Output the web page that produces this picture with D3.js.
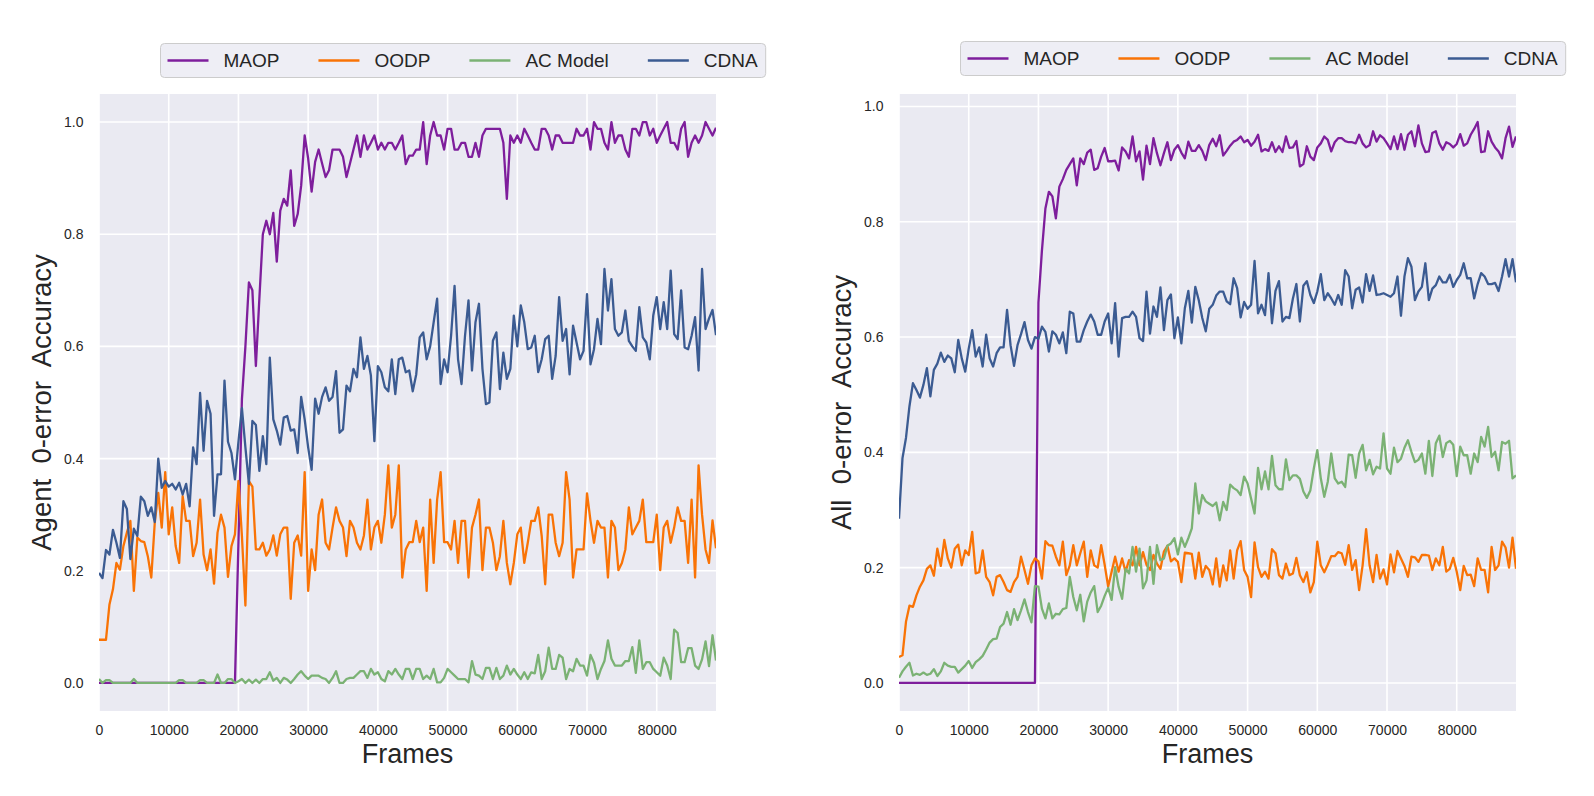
<!DOCTYPE html>
<html>
<head>
<meta charset="utf-8">
<script src="https://cdn.jsdelivr.net/npm/d3@7"></script>
<style>
  body { margin: 0; background: #fff; }
  svg { display: block; }
</style>
</head>
<body>
<svg id="chart" width="1594" height="796"></svg>
<script>
const seriesNames = ["MAOP", "OODP", "AC Model", "CDNA"];
const seriesColors = ["#7e1e9c", "#f97306", "#7bb274", "#3b5b92"];
const xTicks = [0, 10000, 20000, 30000, 40000, 50000, 60000, 70000, 80000];
const yTicks = [0, 0.2, 0.4, 0.6, 0.8, 1.0];
const frameStep = 500;

// left panel: Agent 0-error accuracy
const agentMaop = [
  0, 0, 0, 0, 0, 0, 0, 0, 0, 0,
  0, 0, 0, 0, 0, 0, 0, 0, 0, 0,
  0, 0, 0, 0, 0, 0, 0, 0, 0, 0,
  0, 0, 0, 0, 0, 0, 0, 0, 0, 0,
  .25, .506, .60, .714, .70, .565, .685, .80, .824, .80,
  .838, .751, .842, .863, .851, .914, .815, .836, .887, .976,
  .935, .876, .929, .951, .926, .902, .914, .951, .951, .951,
  .938, .902, .926, .951, .976, .938, .976, .951, .963, .976,
  .951, .963, .951, .963, .963, .951, .963, .976, .925, .94,
  .94, .951, .951, 1, .925, .976, 1, .976, .976, .951,
  .988, .988, .951, .951, .963, .963, .938, .938, .963, .938,
  .976, .988, .988, .988, .988, .988, .963, .863, .976, .963,
  .976, .963, .988, .976, .963, .951, .951, .988, .988, .976,
  .951, .976, .976, .963, .963, .963, .963, .988, .976, .976,
  .988, .951, 1, .988, .988, .963, .951, 1, .963, .976,
  .976, .951, .938, .988, .988, .976, 1, 1, .976, .988,
  .963, .976, .988, 1, .963, .963, .951, .988, 1, .938,
  .963, .976, .963, .976, 1, .988, .976, .99
];
const agentOodp = [
  .077, .077, .077, .14, .167, .214, .202, .244, .268, .289,
  .164, .259, .253, .251, .226, .188, .286, .339, .277, .376,
  .265, .313, .244, .214, .333, .289, .289, .226, .25, .327,
  .229, .201, .238, .177, .268, .30, .277, .189, .244, .265,
  .36, .262, .138, .36, .35, .238, .238, .25, .227, .238,
  .263, .227, .265, .277, .277, .15, .25, .263, .227, .376,
  .164, .238, .201, .30, .327, .25, .238, .277, .313, .289,
  .277, .226, .289, .277, .25, .238, .263, .327, .238, .277,
  .289, .25, .30, .388, .277, .30, .388, .188, .238, .251,
  .251, .289, .251, .277, .164, .327, .214, .327, .376, .251,
  .251, .238, .289, .214, .289, .289, .188, .277, .30, .327,
  .201, .277, .277, .25, .201, .226, .289, .214, .176, .214,
  .265, .277, .214, .25, .289, .289, .313, .262, .176, .30,
  .30, .25, .226, .25, .376, .327, .188, .238, .238, .238,
  .338, .289, .25, .289, .277, .277, .188, .289, .277, .201,
  .214, .238, .313, .265, .277, .289, .327, .251, .251, .251,
  .30, .201, .277, .289, .25, .277, .313, .289, .289, .214,
  .327, .188, .388, .30, .238, .214, .29, .24
];
const agentAc = [
  .007, 0, .005, .005, 0, 0, 0, 0, 0, 0,
  .007, 0, 0, 0, 0, 0, 0, 0, 0, 0,
  0, 0, 0, .005, .005, 0, 0, 0, 0, .005,
  .005, 0, 0, 0, .015, 0, 0, .007, .007, 0,
  .003, .007, 0, .006, 0, .006, 0, .007, .007, .019,
  .004, .009, 0, .009, .006, 0, .007, .015, .021, .013,
  .007, .013, .013, .013, .009, .007, 0, .009, .021, 0,
  0, .007, .009, .009, .015, .021, .021, .009, .025, .015,
  .019, .007, .003, .021, .015, .025, .015, .007, .025, .025,
  .007, .025, .025, .007, .013, .007, .025, .001, .001, .009,
  .025, .019, .013, .007, .007, .007, .001, .039, .015, .013,
  .007, .027, .027, .007, .027, .007, .013, .031, .015, .025,
  .015, .007, .019, .007, .019, .017, .05, .007, .021, .063,
  .025, .025, .05, .045, .007, .025, .021, .043, .031, .031,
  .013, .05, .036, .007, .025, .039, .076, .043, .031, .031,
  .031, .039, .039, .064, .018, .076, .025, .037, .037, .025,
  .019, .013, .045, .031, .007, .095, .089, .037, .037, .062,
  .062, .031, .025, .042, .074, .03, .085, .04
];
const agentCdna = [
  .196, .187, .237, .229, .273, .25, .223, .324, .31, .221,
  .275, .262, .332, .324, .298, .313, .287, .40, .348, .36,
  .35, .355, .345, .357, .336, .355, .315, .42, .39, .517,
  .414, .503, .48, .298, .372, .372, .539, .43, .41, .363,
  .43, .49, .42, .355, .467, .46, .378, .44, .39, .58,
  .47, .45, .425, .473, .476, .45, .452, .41, .51, .47,
  .42, .38, .507, .48, .51, .527, .503, .51, .556, .446,
  .452, .53, .52, .56, .545, .616, .56, .583, .548, .431,
  .565, .554, .527, .52, .577, .515, .577, .58, .554, .557,
  .52, .55, .616, .625, .577, .60, .643, .685, .533, .577,
  .554, .619, .708, .577, .533, .619, .682, .557, .643, .676,
  .56, .497, .50, .61, .625, .524, .589, .542, .56, .655,
  .60, .673, .643, .595, .598, .619, .554, .577, .613, .619,
  .542, .583, .688, .61, .631, .55, .637, .607, .577, .592,
  .693, .568, .595, .649, .604, .738, .664, .72, .631, .619,
  .625, .664, .61, .60, .592, .67, .616, .607, .577, .655,
  .688, .631, .679, .631, .735, .622, .613, .70, .598, .595,
  .619, .652, .557, .738, .631, .65, .665, .62
];

// right panel: All 0-error accuracy
const allMaop = [
  0, 0, 0, 0, 0, 0, 0, 0, 0, 0,
  0, 0, 0, 0, 0, 0, 0, 0, 0, 0,
  0, 0, 0, 0, 0, 0, 0, 0, 0, 0,
  0, 0, 0, 0, 0, 0, 0, 0, 0, 0,
  .66, .75, .823, .852, .844, .806, .861, .874, .89, .90,
  .91, .863, .91, .90, .92, .925, .89, .893, .913, .928,
  .905, .905, .906, .889, .929, .922, .91, .948, .905, .922,
  .873, .932, .90, .945, .919, .898, .919, .938, .907, .925,
  .933, .92, .91, .939, .923, .923, .933, .923, .907, .933,
  .944, .931, .95, .915, .923, .932, .939, .942, .948, .938,
  .942, .932, .939, .951, .922, .926, .923, .938, .921, .931,
  .921, .948, .928, .929, .94, .896, .90, .931, .913, .907,
  .929, .936, .948, .942, .922, .938, .945, .945, .94, .938,
  .938, .936, .951, .936, .929, .933, .957, .939, .95, .945,
  .936, .926, .948, .926, .952, .925, .951, .957, .931, .967,
  .936, .921, .922, .954, .957, .936, .925, .938, .935, .929,
  .935, .952, .932, .936, .951, .961, .973, .921, .922, .957,
  .939, .929, .922, .91, .945, .965, .93, .948
];
const allOodp = [
  .045, .048, .106, .134, .132, .152, .167, .178, .198, .204,
  .186, .233, .203, .248, .216, .20, .233, .24, .204, .23,
  .222, .262, .19, .192, .23, .184, .175, .152, .184, .187,
  .175, .161, .158, .175, .184, .219, .196, .172, .204, .216,
  .211, .181, .246, .239, .238, .219, .204, .245, .187, .204,
  .239, .204, .225, .245, .184, .23, .204, .20, .239, .205,
  .167, .193, .219, .193, .216, .193, .213, .204, .236, .204,
  .227, .205, .196, .222, .207, .198, .228, .238, .211, .216,
  .21, .175, .226, .225, .224, .181, .226, .184, .203, .196,
  .171, .216, .167, .204, .178, .23, .181, .23, .246, .196,
  .184, .149, .244, .201, .184, .193, .181, .232, .225, .187,
  .181, .207, .187, .19, .217, .187, .175, .192, .157, .175,
  .245, .204, .192, .205, .22, .22, .227, .225, .205, .239,
  .196, .213, .161, .204, .267, .204, .175, .222, .181, .197,
  .171, .223, .192, .229, .216, .203, .184, .219, .218, .21,
  .222, .222, .221, .196, .216, .204, .236, .193, .198, .217,
  .193, .161, .203, .187, .188, .168, .216, .196, .196, .157,
  .236, .196, .204, .245, .235, .20, .252, .198
];
const allAc = [
  .009, .02, .028, .035, .013, .016, .014, .018, .014, .016,
  .024, .012, .02, .035, .03, .028, .028, .018, .024, .03,
  .038, .026, .036, .041, .047, .058, .07, .076, .077, .097,
  .103, .123, .101, .128, .109, .126, .145, .123, .105, .168,
  .167, .129, .112, .138, .112, .12, .119, .128, .13, .184,
  .149, .126, .153, .107, .141, .157, .168, .123, .134, .151,
  .165, .144, .201, .167, .146, .198, .19, .236, .193, .233,
  .164, .178, .236, .172, .239, .213, .216, .238, .242, .251,
  .223, .252, .236, .251, .268, .346, .294, .326, .315, .311,
  .307, .313, .282, .314, .30, .344, .338, .334, .326, .358,
  .346, .32, .294, .373, .336, .367, .336, .394, .343, .336,
  .336, .388, .352, .36, .36, .354, .332, .321, .334, .372,
  .404, .355, .323, .349, .398, .355, .346, .349, .34, .396,
  .395, .356, .398, .413, .369, .387, .362, .375, .372, .433,
  .372, .363, .408, .383, .389, .408, .421, .401, .383, .387,
  .398, .363, .42, .359, .416, .429, .392, .416, .42, .413,
  .359, .41, .395, .395, .363, .398, .383, .427, .41, .444,
  .392, .401, .369, .418, .415, .42, .355, .36
];
const allCdna = [
  .285, .39, .425, .48, .52, .508, .495, .517, .546, .497,
  .543, .554, .573, .557, .568, .563, .539, .595, .563, .54,
  .58, .612, .566, .582, .549, .604, .563, .549, .572, .582,
  .582, .647, .586, .55, .586, .605, .626, .595, .58, .60,
  .597, .618, .609, .575, .61, .604, .589, .608, .572, .644,
  .641, .592, .592, .612, .627, .639, .627, .604, .604, .627,
  .641, .589, .659, .566, .633, .635, .635, .644, .635, .598,
  .593, .679, .606, .653, .635, .686, .612, .664, .674, .598,
  .634, .589, .65, .68, .625, .687, .664, .633, .61, .649,
  .656, .672, .679, .679, .662, .657, .702, .685, .634, .661,
  .649, .656, .732, .641, .656, .638, .711, .624, .68, .697,
  .627, .635, .633, .667, .692, .627, .689, .697, .673, .659,
  .679, .709, .664, .676, .667, .656, .673, .656, .716, .705,
  .65, .682, .686, .66, .709, .68, .707, .673, .674, .676,
  .673, .67, .676, .705, .637, .705, .737, .722, .664, .679,
  .687, .728, .664, .684, .69, .705, .695, .695, .708, .687,
  .699, .708, .728, .702, .702, .667, .692, .711, .705, .692,
  .692, .694, .68, .705, .735, .705, .735, .695
];

const frames = agentMaop.map((d, i) => i * frameStep);
const fontFamily = "'Liberation Sans', Arial, sans-serif";
const textColor = "#262626";

const svg = d3.select("#chart").attr("font-family", fontFamily);
const defs = svg.append("defs");

function drawPanel(p) {
  const g = svg.append("g").attr("transform", `translate(${p.left}, ${p.top})`);

  // scales, y gets matplotlib style 5% margins
  const x = d3.scaleLinear()
    .domain([0, frames[frames.length - 1]])
    .range([0, p.width]);
  const all = [].concat(...p.series);
  const lo = d3.min(all), hi = d3.max(all), pad = (hi - lo) * 0.05;
  const y = d3.scaleLinear()
    .domain([lo - pad, hi + pad])
    .range([p.height, 0]);

  g.append("rect")
    .attr("width", p.width)
    .attr("height", p.height)
    .attr("fill", "#eaeaf2");

  // grid lines
  g.selectAll(".vgrid").data(xTicks).enter().append("line")
    .attr("x1", d => x(d)).attr("x2", d => x(d))
    .attr("y1", 0).attr("y2", p.height)
    .attr("stroke", "#fff").attr("stroke-width", 1.6);
  g.selectAll(".hgrid").data(yTicks).enter().append("line")
    .attr("x1", 0).attr("x2", p.width)
    .attr("y1", d => y(d)).attr("y2", d => y(d))
    .attr("stroke", "#fff").attr("stroke-width", 1.6);

  // axes without domain line or tick marks
  const xAxis = d3.axisBottom(x).tickValues(xTicks).tickSize(0).tickPadding(14).tickFormat(d3.format("d"));
  const yAxis = d3.axisLeft(y).tickValues(yTicks).tickSize(0).tickPadding(15.5).tickFormat(d3.format(".1f"));
  const xa = g.append("g").attr("transform", `translate(0, ${p.height})`).call(xAxis);
  const ya = g.append("g").call(yAxis);
  [xa, ya].forEach(a => {
    a.select(".domain").remove();
    a.attr("font-family", fontFamily).attr("font-size", 14).attr("color", textColor);
  });

  // the lines
  const clipId = p.id + "-clip";
  defs.append("clipPath").attr("id", clipId)
    .append("rect").attr("width", p.width).attr("height", p.height);
  const line = d3.line()
    .x((d, i) => x(frames[i]))
    .y(d => y(d));
  const lines = g.append("g").attr("clip-path", `url(#${clipId})`);
  p.series.forEach((s, k) => {
    lines.append("path")
      .datum(s)
      .attr("d", line)
      .attr("fill", "none")
      .attr("stroke", seriesColors[k])
      .attr("stroke-width", 2.3)
      .attr("stroke-linejoin", "round");
  });

  // axis labels
  svg.append("text")
    .attr("x", p.left + p.width / 2)
    .attr("y", p.top + p.height + 52)
    .attr("text-anchor", "middle")
    .attr("font-size", 27)
    .attr("fill", textColor)
    .text("Frames");
  svg.append("text")
    .attr("transform", `translate(${p.left - 48}, ${p.top + p.height / 2}) rotate(-90)`)
    .attr("text-anchor", "middle")
    .attr("font-size", 27.5)
    .attr("fill", textColor)
    .attr("xml:space", "preserve")
    .style("white-space", "pre")
    .text(p.ylabel);

  drawLegend(p.legendX, p.legendY);
}

function drawLegend(lx, ly) {
  const h = 34;
  const lg = svg.append("g").attr("transform", `translate(${lx}, ${ly})`);
  const box = lg.append("rect")
    .attr("height", h)
    .attr("rx", 4)
    .attr("fill", "#eaeaf2")
    .attr("fill-opacity", 0.8)
    .attr("stroke", "#cccccc")
    .attr("stroke-width", 1);
  let cx = 7;
  seriesNames.forEach((name, i) => {
    lg.append("line")
      .attr("x1", cx).attr("x2", cx + 41)
      .attr("y1", h / 2).attr("y2", h / 2)
      .attr("stroke", seriesColors[i])
      .attr("stroke-width", 2.6);
    const t = lg.append("text")
      .attr("x", cx + 56)
      .attr("y", h / 2)
      .attr("dy", "0.36em")
      .attr("font-size", 19)
      .attr("fill", textColor)
      .text(name);
    cx = cx + 56 + t.node().getComputedTextLength() + 39;
  });
  box.attr("width", cx - 39 + 8);
}

drawPanel({
  id: "agent", left: 99, top: 94, width: 617, height: 617,
  series: [agentMaop, agentOodp, agentAc, agentCdna],
  ylabel: "Agent  0-error  Accuracy",
  legendX: 160.5, legendY: 43.5
});
drawPanel({
  id: "all", left: 899, top: 94, width: 617, height: 617,
  series: [allMaop, allOodp, allAc, allCdna],
  ylabel: "All  0-error  Accuracy",
  legendX: 960.5, legendY: 41.5
});
</script>
</body>
</html>
